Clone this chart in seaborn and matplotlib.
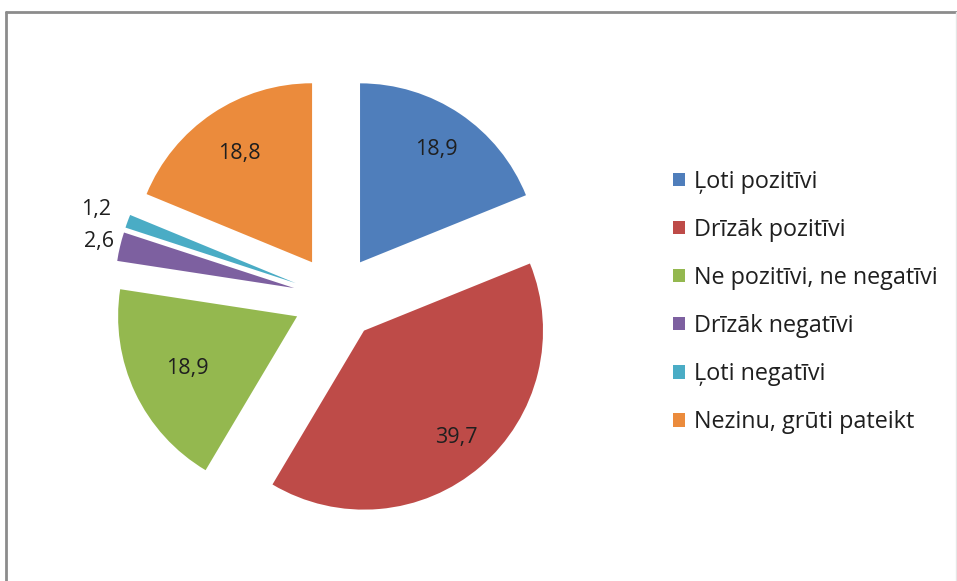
import matplotlib
matplotlib.use("Agg")
import matplotlib.pyplot as plt
import seaborn as sns
import numpy as np
from matplotlib.patches import Patch
from matplotlib.lines import Line2D

sns.set_theme(style="white")
plt.rcParams['font.family'] = ['Open Sans', 'DejaVu Sans']

categories = ["Ļoti pozitīvi", "Drīzāk pozitīvi", "Ne pozitīvi, ne negatīvi",
              "Drīzāk negatīvi", "Ļoti negatīvi", "Nezinu, grūti pateikt"]
values = [18.9, 39.7, 18.9, 2.6, 1.2, 18.8]
value_labels = ["18,9", "39,7", "18,9", "2,6", "1,2", "18,8"]

colors = ["#4F7EBB", "#BE4B48", "#94B84F", "#7D60A0", "#4AACC5", "#EB8B3C"]
label_dist = [0.76, 0.79, 0.68, 1.12, 1.19, 0.73]

W, H = 957, 581
fig = plt.figure(figsize=(W / 100, H / 100), dpi=100)
ax = fig.add_axes([0, 0, 1, 1])

R = 179
cx, cy = 336, H - 298
wedges, _ = ax.pie(values, colors=colors, startangle=90, counterclock=False,
                   explode=[43] * len(values), radius=R, center=(cx, cy),
                   wedgeprops=dict(linewidth=0), frame=True)
ax.set_xlim(0, W)
ax.set_ylim(0, H)
ax.set_aspect('equal')
ax.axis('off')

for w, lab, d in zip(wedges, value_labels, label_dist):
    th = np.deg2rad((w.theta1 + w.theta2) / 2)
    x0, y0 = w.center
    ax.text(x0 + d * R * np.cos(th), y0 + d * R * np.sin(th), lab,
            ha='center', va='center', fontsize=15.5, color='#1f1f1f')

handles = [Patch(facecolor=c, edgecolor='none') for c in colors]
fig.legend(handles, categories, loc='upper left', bbox_to_anchor=(673 / W, 1 - 170 / H),
           frameon=False, fontsize=16.8, handlelength=0.5, handleheight=0.5,
           handletextpad=0.4, labelspacing=1.03, borderpad=0, borderaxespad=0,
           labelcolor='#1f1f1f')

# outer frame
fig.add_artist(Line2D([6 / W, 6 / W], [0, 1 - 12 / H], transform=fig.transFigure,
                      color='#8c8c8c', lw=2))
fig.add_artist(Line2D([6 / W, 1], [1 - 12 / H, 1 - 12 / H], transform=fig.transFigure,
                      color='#8c8c8c', lw=2))
fig.add_artist(Line2D([955.5 / W, 955.5 / W], [0, 1 - 12 / H], transform=fig.transFigure,
                      color='#e6e6e6', lw=1))

fig.savefig("out.png", dpi=100)
